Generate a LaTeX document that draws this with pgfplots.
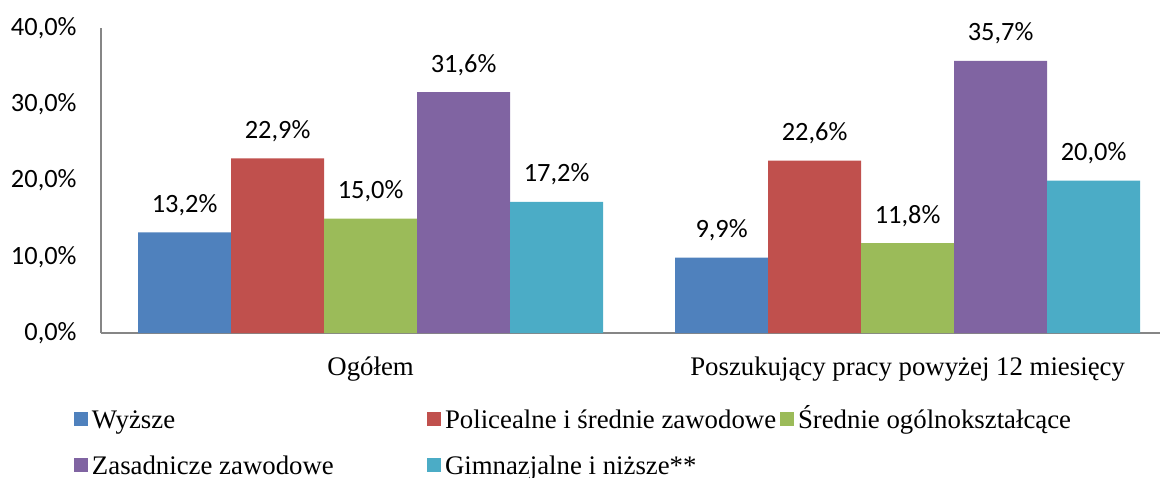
\documentclass[border=0pt]{standalone}
\usepackage{fontspec}
\setmainfont{Liberation Serif}
\newfontfamily\carlito{Carlito}
\usepackage{pgfplots}
\pgfplotsset{compat=1.18}
\definecolor{c1}{HTML}{4F81BD}
\definecolor{c2}{HTML}{C0504D}
\definecolor{c3}{HTML}{9BBB59}
\definecolor{c4}{HTML}{8064A2}
\definecolor{c5}{HTML}{4BACC6}
\definecolor{axgray}{RGB}{134,134,134}
\begin{document}
\begin{tikzpicture}
\useasboundingbox (-50.5pt,-72pt) rectangle (529.5pt,166.5pt);
\begin{axis}[
  at={(0,0)}, anchor=south west,
  scale only axis, width=529.5pt, height=152.5pt,
  ymin=0, ymax=40, xmin=-0.502, xmax=1.470,
  ybar=0pt, bar width=46.5pt,
  axis x line*=bottom, axis y line*=left,
  axis line style={draw=axgray, line width=1pt},
  tick style={draw=none},
  /pgf/number format/assume math mode=true,
  ytick={0,10,20,30,40},
  yticklabel={\pgfmathprintnumber[fixed,fixed zerofill,precision=1,use comma]{\tick}\%},
  yticklabel style={font=\fontsize{13.2}{15}\selectfont\carlito, anchor=east, inner sep=0pt, xshift=-12pt},
  xtick={0,1},
  xticklabels={Ogółem, Poszukujący pracy powyżej 12 miesięcy},
  xticklabel style={font=\fontsize{13.4}{15}\selectfont, anchor=base, inner sep=0pt, yshift=-17pt},
  nodes near coords={\pgfmathprintnumber[fixed,fixed zerofill,precision=1,use comma]{\pgfplotspointmeta}\%},
  every node near coord/.append style={font=\fontsize{13.2}{15}\selectfont\carlito, anchor=base, inner sep=0pt, yshift=10pt},
  legend columns=3,
  legend image code/.code={\fill[#1] (0pt,-3.5pt) rectangle (7pt,3.5pt);},
  legend style={draw=none, fill=none, inner sep=0pt, outer sep=0pt,
    at={(0,0)}, anchor=north west, xshift=-13.5pt, yshift=-38.5pt,
    column sep=0pt, row sep=14pt,
    font=\fontsize{13.4}{15}\selectfont,
    nodes={inner xsep=2pt, inner ysep=0pt, text height=9pt, text depth=0pt, anchor=west}},
  legend cell align=left,
]
\addplot[draw=none, fill=c1] coordinates {(0,13.2) (1,9.9)};
\addplot[draw=none, fill=c2] coordinates {(0,22.9) (1,22.6)};
\addplot[draw=none, fill=c3] coordinates {(0,15.0) (1,11.8)};
\addplot[draw=none, fill=c4] coordinates {(0,31.6) (1,35.7)};
\addplot[draw=none, fill=c5] coordinates {(0,17.2) (1,20.0)};
\addlegendentry{\makebox[165.5pt][l]{Wyższe}}
\addlegendentry{\makebox[165.5pt][l]{Policealne i średnie zawodowe}}
\addlegendentry{Średnie ogólnokształcące}
\addlegendentry{Zasadnicze zawodowe}
\addlegendentry{Gimnazjalne i niższe**}
\end{axis}
\end{tikzpicture}
\end{document}
